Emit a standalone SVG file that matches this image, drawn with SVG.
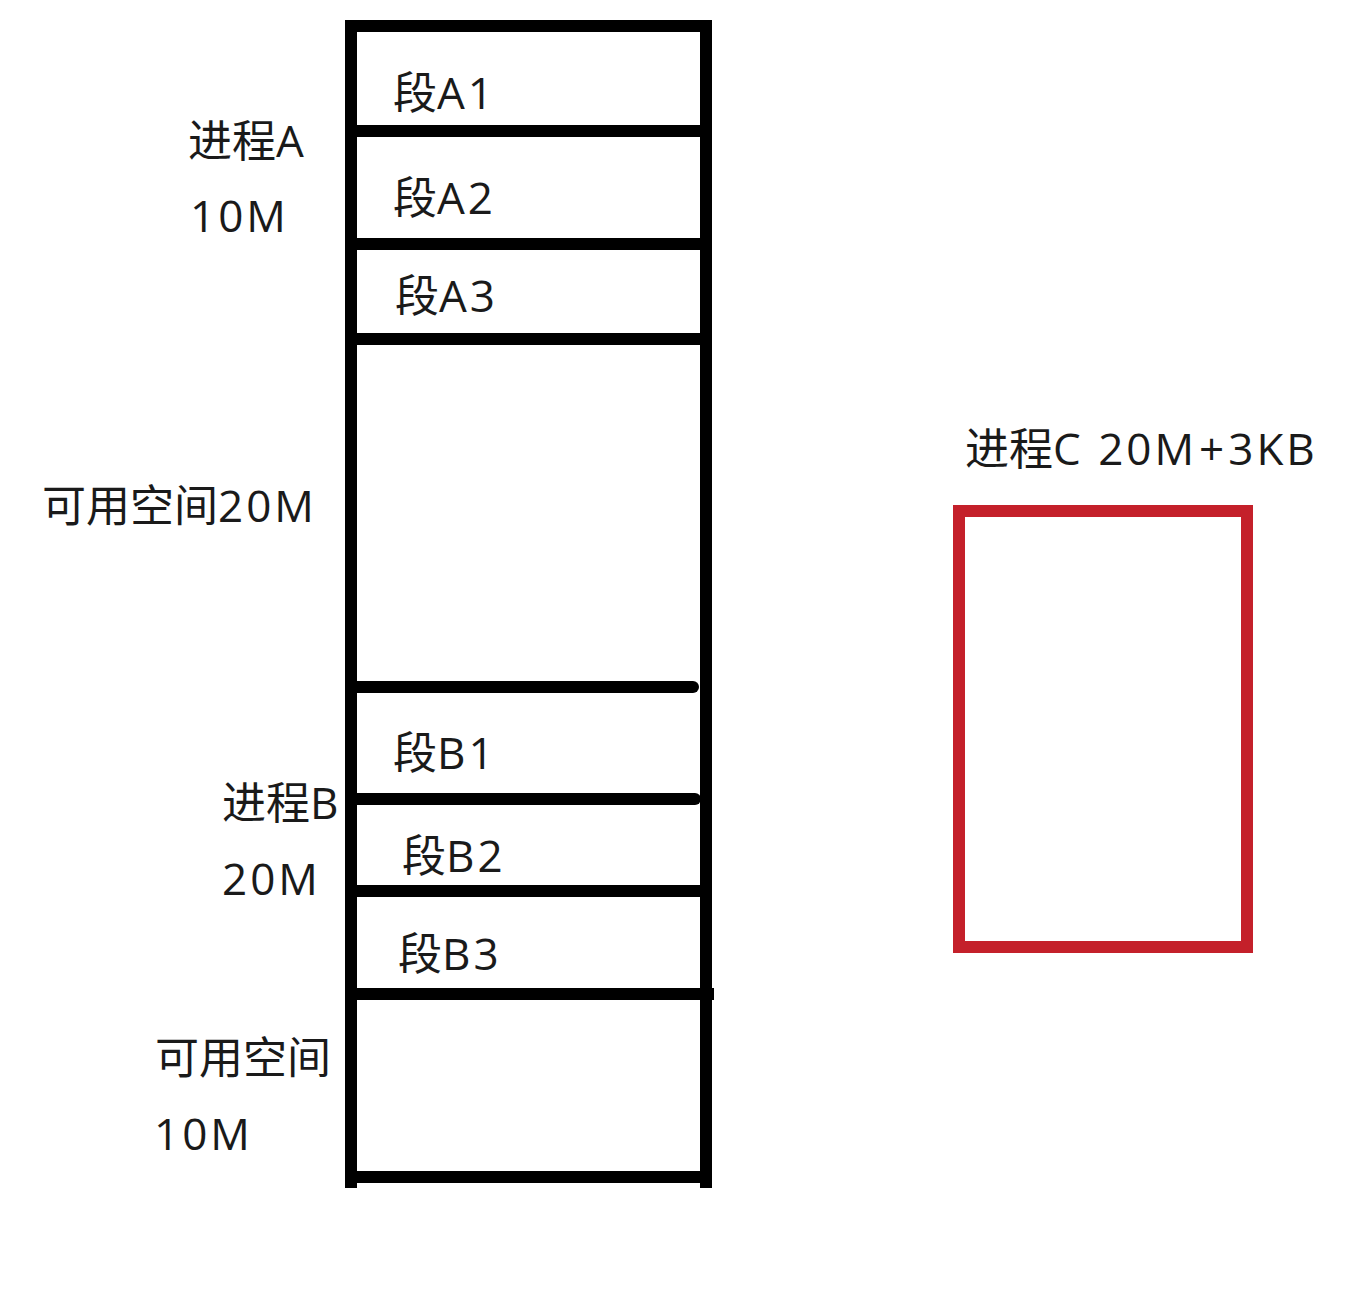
<svg xmlns="http://www.w3.org/2000/svg" width="1369" height="1300" viewBox="0 0 1369 1300">
<style>
.t{font-family:"Open Sans","Noto Sans CJK SC",sans-serif;font-size:44px;fill:#1a1a1a}
.l{letter-spacing:3px}
.w{stroke:#000;stroke-width:12;fill:none}
</style>
<rect width="1369" height="1300" fill="#fff"/>
<g id="memory">
  <line class="w" x1="351" y1="20" x2="351" y2="1188"/>
  <line class="w" x1="706" y1="20" x2="706" y2="1188"/>
  <line class="w" x1="345" y1="26" x2="712" y2="26"/>
  <line class="w" x1="351" y1="131" x2="706" y2="131"/>
  <line class="w" x1="357" y1="244" x2="706" y2="244"/>
  <line class="w" x1="351" y1="339" x2="706" y2="339"/>
  <line class="w" x1="351" y1="687" x2="693" y2="687" stroke-linecap="round"/>
  <line class="w" x1="351" y1="799" x2="695" y2="799" stroke-linecap="round"/>
  <line class="w" x1="351" y1="891" x2="706" y2="891"/>
  <line class="w" x1="351" y1="994" x2="714" y2="994"/>
  <line class="w" x1="351" y1="1177" x2="706" y2="1177"/>
</g>
<g id="segA1"><text class="t" x="393" y="109">段<tspan class="l">A1</tspan></text></g>
<g id="segA2"><text class="t" x="393" y="214">段<tspan class="l">A2</tspan></text></g>
<g id="segA3"><text class="t" x="395" y="312">段<tspan class="l">A3</tspan></text></g>
<g id="segB1"><text class="t" x="393" y="769">段<tspan class="l">B1</tspan></text></g>
<g id="segB2"><text class="t" x="402" y="872">段<tspan class="l">B2</tspan></text></g>
<g id="segB3"><text class="t" x="398" y="970">段<tspan class="l">B3</tspan></text></g>
<g id="procA"><text class="t" x="188" y="157">进程A</text><text class="t l" x="190" y="232">10M</text></g>
<g id="free20"><text class="t" x="42" y="522">可用空间<tspan class="l">20M</tspan></text></g>
<g id="procB"><text class="t" x="222" y="819">进程B</text><text class="t l" x="222" y="895">20M</text></g>
<g id="free10"><text class="t" x="155" y="1074">可用空间</text><text class="t l" x="154" y="1150">10M</text></g>
<g id="procC">
  <text class="t" x="965" y="465">进程<tspan class="l">C 20M</tspan><tspan dx="2">+</tspan><tspan class="l" dx="4">3KB</tspan></text>
  <rect x="959" y="511" width="288" height="436" fill="none" stroke="#c4202a" stroke-width="12"/>
</g>
</svg>
